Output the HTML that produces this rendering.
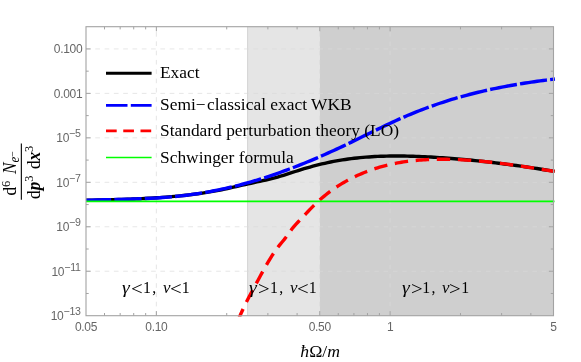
<!DOCTYPE html><html><head><meta charset="utf-8"><title>plot</title><style>
html,body{margin:0;padding:0;background:#fff;}
body{width:581px;height:362px;position:relative;overflow:hidden;font-family:"Liberation Sans",sans-serif;}
.t{position:absolute;white-space:nowrap;line-height:1;}
.tk{font-family:"Liberation Sans",sans-serif;font-size:12px;letter-spacing:-0.3px;color:#666;}
.yt{text-align:right;width:80px;left:2.3px;}
.sup{font-size:10.6px;position:relative;top:-4.8px;letter-spacing:-0.2px;margin-right:1.5px;}
.lg{font-family:"Liberation Serif",serif;font-size:17.4px;color:#000;left:160px;}
.rg{font-family:"Liberation Serif",serif;font-size:15.8px;color:#000;}
.ax{font-family:"Liberation Serif",serif;font-size:16.4px;color:#000;}
i{font-style:italic;}
</style></head><body>
<svg width="581" height="362" viewBox="0 0 581 362" style="position:absolute;left:0;top:0">
<rect x="0" y="0" width="581" height="362" fill="#fff"/>
<rect x="247.6" y="26.7" width="72.1" height="289.0" fill="#e5e5e5"/>
<rect x="319.7" y="26.7" width="233.8" height="289.0" fill="#cfcfcf"/>
<line x1="247.6" y1="26.7" x2="247.6" y2="315.7" stroke="#d4d4d4" stroke-width="1"/>
<line x1="86.0" y1="48.93" x2="553.5" y2="48.93" stroke="rgba(216,216,216,0.65)" stroke-width="1" stroke-dasharray="4.65 4.65"/>
<line x1="86.0" y1="93.39" x2="553.5" y2="93.39" stroke="rgba(216,216,216,0.65)" stroke-width="1" stroke-dasharray="4.65 4.65"/>
<line x1="86.0" y1="137.85" x2="553.5" y2="137.85" stroke="rgba(216,216,216,0.65)" stroke-width="1" stroke-dasharray="4.65 4.65"/>
<line x1="86.0" y1="182.32" x2="553.5" y2="182.32" stroke="rgba(216,216,216,0.65)" stroke-width="1" stroke-dasharray="4.65 4.65"/>
<line x1="86.0" y1="226.78" x2="553.5" y2="226.78" stroke="rgba(216,216,216,0.65)" stroke-width="1" stroke-dasharray="4.65 4.65"/>
<line x1="86.0" y1="271.24" x2="553.5" y2="271.24" stroke="rgba(216,216,216,0.65)" stroke-width="1" stroke-dasharray="4.65 4.65"/>
<line x1="156.37" y1="315.7" x2="156.37" y2="26.7" stroke="rgba(216,216,216,0.65)" stroke-width="1" stroke-dasharray="4.65 4.65"/>
<line x1="319.75" y1="315.7" x2="319.75" y2="26.7" stroke="rgba(216,216,216,0.65)" stroke-width="1" stroke-dasharray="4.65 4.65"/>
<line x1="390.12" y1="315.7" x2="390.12" y2="26.7" stroke="rgba(216,216,216,0.65)" stroke-width="1" stroke-dasharray="4.65 4.65"/>
<path d="M86.0,293.47h2.7 M553.5,293.47h-2.7" stroke="#a3a3a3" stroke-width="1" fill="none"/>
<path d="M86.0,271.24h4.6 M553.5,271.24h-4.6" stroke="#a3a3a3" stroke-width="1" fill="none"/>
<path d="M86.0,249.01h2.7 M553.5,249.01h-2.7" stroke="#a3a3a3" stroke-width="1" fill="none"/>
<path d="M86.0,226.78h4.6 M553.5,226.78h-4.6" stroke="#a3a3a3" stroke-width="1" fill="none"/>
<path d="M86.0,204.55h2.7 M553.5,204.55h-2.7" stroke="#a3a3a3" stroke-width="1" fill="none"/>
<path d="M86.0,182.32h4.6 M553.5,182.32h-4.6" stroke="#a3a3a3" stroke-width="1" fill="none"/>
<path d="M86.0,160.08h2.7 M553.5,160.08h-2.7" stroke="#a3a3a3" stroke-width="1" fill="none"/>
<path d="M86.0,137.85h4.6 M553.5,137.85h-4.6" stroke="#a3a3a3" stroke-width="1" fill="none"/>
<path d="M86.0,115.62h2.7 M553.5,115.62h-2.7" stroke="#a3a3a3" stroke-width="1" fill="none"/>
<path d="M86.0,93.39h4.6 M553.5,93.39h-4.6" stroke="#a3a3a3" stroke-width="1" fill="none"/>
<path d="M86.0,71.16h2.7 M553.5,71.16h-2.7" stroke="#a3a3a3" stroke-width="1" fill="none"/>
<path d="M86.0,48.93h4.6 M553.5,48.93h-4.6" stroke="#a3a3a3" stroke-width="1" fill="none"/>
<path d="M104.51,315.7v-2.7 M104.51,26.7v2.7" stroke="#a3a3a3" stroke-width="1" fill="none"/>
<path d="M120.16,315.7v-2.7 M120.16,26.7v2.7" stroke="#a3a3a3" stroke-width="1" fill="none"/>
<path d="M133.71,315.7v-2.7 M133.71,26.7v2.7" stroke="#a3a3a3" stroke-width="1" fill="none"/>
<path d="M145.67,315.7v-2.7 M145.67,26.7v2.7" stroke="#a3a3a3" stroke-width="1" fill="none"/>
<path d="M156.37,315.7v-4.6 M156.37,26.7v4.6" stroke="#a3a3a3" stroke-width="1" fill="none"/>
<path d="M226.73,315.7v-2.7 M226.73,26.7v2.7" stroke="#a3a3a3" stroke-width="1" fill="none"/>
<path d="M267.89,315.7v-2.7 M267.89,26.7v2.7" stroke="#a3a3a3" stroke-width="1" fill="none"/>
<path d="M297.10,315.7v-2.7 M297.10,26.7v2.7" stroke="#a3a3a3" stroke-width="1" fill="none"/>
<path d="M319.75,315.7v-4.6 M319.75,26.7v4.6" stroke="#a3a3a3" stroke-width="1" fill="none"/>
<path d="M338.26,315.7v-2.7 M338.26,26.7v2.7" stroke="#a3a3a3" stroke-width="1" fill="none"/>
<path d="M353.91,315.7v-2.7 M353.91,26.7v2.7" stroke="#a3a3a3" stroke-width="1" fill="none"/>
<path d="M367.46,315.7v-2.7 M367.46,26.7v2.7" stroke="#a3a3a3" stroke-width="1" fill="none"/>
<path d="M379.42,315.7v-2.7 M379.42,26.7v2.7" stroke="#a3a3a3" stroke-width="1" fill="none"/>
<path d="M390.12,315.7v-4.6 M390.12,26.7v4.6" stroke="#a3a3a3" stroke-width="1" fill="none"/>
<path d="M460.48,315.7v-2.7 M460.48,26.7v2.7" stroke="#a3a3a3" stroke-width="1" fill="none"/>
<path d="M501.64,315.7v-2.7 M501.64,26.7v2.7" stroke="#a3a3a3" stroke-width="1" fill="none"/>
<path d="M530.85,315.7v-2.7 M530.85,26.7v2.7" stroke="#a3a3a3" stroke-width="1" fill="none"/>
<clipPath id="cp"><rect x="84.0" y="24.7" width="471.5" height="291.8"/></clipPath>
<g id="curves" fill="none" stroke-linecap="butt" stroke-linejoin="round" clip-path="url(#cp)">
<path d="M86.00,200.30 L88.95,200.25 L91.89,200.19 L94.84,200.13 L97.79,200.07 L100.74,200.00 L103.68,199.93 L106.63,199.86 L109.58,199.79 L112.52,199.71 L115.47,199.63 L118.42,199.54 L121.37,199.45 L124.31,199.35 L127.26,199.25 L130.21,199.14 L133.15,199.02 L136.10,198.90 L139.05,198.76 L142.00,198.62 L144.94,198.47 L147.89,198.31 L150.84,198.15 L153.78,197.97 L156.73,197.78 L159.68,197.58 L162.63,197.37 L165.57,197.14 L168.52,196.91 L171.47,196.66 L174.42,196.40 L177.36,196.12 L180.31,195.83 L183.26,195.53 L186.20,195.21 L189.15,194.87 L192.10,194.51 L195.05,194.14 L197.99,193.74 L200.94,193.33 L203.89,192.89 L206.83,192.43 L209.78,191.94 L212.73,191.43 L215.68,190.90 L218.62,190.34 L221.57,189.75 L224.52,189.14 L227.46,188.51 L230.41,187.86 L233.36,187.20 L236.31,186.53 L239.25,185.85 L242.20,185.18 L245.15,184.52 L248.09,183.86 L251.04,183.22 L253.99,182.58 L256.94,181.94 L259.88,181.30 L262.83,180.65 L265.78,179.98 L268.72,179.29 L271.67,178.57 L274.62,177.81 L277.57,177.02 L280.51,176.18 L283.46,175.30 L286.41,174.37 L289.35,173.42 L292.30,172.46 L295.25,171.50 L298.20,170.55 L301.14,169.62 L304.09,168.72 L307.04,167.85 L309.98,167.01 L312.93,166.20 L315.88,165.42 L318.83,164.68 L321.77,163.97 L324.72,163.29 L327.67,162.64 L330.62,162.03 L333.56,161.45 L336.51,160.90 L339.46,160.39 L342.40,159.91 L345.35,159.46 L348.30,159.05 L351.25,158.66 L354.19,158.30 L357.14,157.97 L360.09,157.67 L363.03,157.40 L365.98,157.15 L368.93,156.93 L371.88,156.74 L374.82,156.57 L377.77,156.42 L380.72,156.30 L383.66,156.19 L386.61,156.11 L389.56,156.06 L392.51,156.02 L395.45,156.00 L398.40,156.00 L401.35,156.02 L404.29,156.06 L407.24,156.11 L410.19,156.18 L413.14,156.27 L416.08,156.37 L419.03,156.48 L421.98,156.61 L424.92,156.75 L427.87,156.90 L430.82,157.06 L433.77,157.24 L436.71,157.42 L439.66,157.62 L442.61,157.82 L445.55,158.03 L448.50,158.25 L451.45,158.48 L454.40,158.71 L457.34,158.95 L460.29,159.21 L463.24,159.47 L466.18,159.74 L469.13,160.01 L472.08,160.30 L475.03,160.59 L477.97,160.89 L480.92,161.20 L483.87,161.52 L486.82,161.84 L489.76,162.17 L492.71,162.51 L495.66,162.86 L498.60,163.22 L501.55,163.58 L504.50,163.95 L507.45,164.33 L510.39,164.72 L513.34,165.12 L516.29,165.52 L519.23,165.93 L522.18,166.35 L525.13,166.77 L528.08,167.20 L531.02,167.65 L533.97,168.09 L536.92,168.55 L539.86,169.01 L542.81,169.48 L545.76,169.96 L548.71,170.44 L551.65,170.93 L554.60,171.43" stroke="#000" stroke-width="3.4"/>
<path d="M86.00,200.34 L88.95,200.22 L91.90,200.12 L94.85,200.02 L97.80,199.94 L100.75,199.85 L103.69,199.77 L106.64,199.70 L109.59,199.62 L112.54,199.55 L115.49,199.48 L118.44,199.41 L121.39,199.34 L124.34,199.26 L127.29,199.18 L130.24,199.09 L133.18,199.00 L136.13,198.91 L139.08,198.80 L142.03,198.69 L144.98,198.56 L147.93,198.43 L150.88,198.28 L153.83,198.12 L156.78,197.95 L159.73,197.76 L162.68,197.55 L165.62,197.33 L168.57,197.09 L171.52,196.83 L174.47,196.55 L177.42,196.25 L180.37,195.93 L183.32,195.59 L186.27,195.22 L189.22,194.84 L192.17,194.44 L195.12,194.01 L198.06,193.56 L201.01,193.09 L203.96,192.60 L206.91,192.09 L209.86,191.56 L212.81,191.00 L215.76,190.43 L218.71,189.83 L221.66,189.21 L224.61,188.57 L227.55,187.91 L230.50,187.22 L233.45,186.52 L236.40,185.79 L239.35,185.04 L242.30,184.26 L245.25,183.47 L248.20,182.65 L251.15,181.82 L254.10,180.96 L257.05,180.07 L259.99,179.17 L262.94,178.25 L265.89,177.30 L268.84,176.34 L271.79,175.35 L274.74,174.34 L277.69,173.32 L280.64,172.27 L283.59,171.21 L286.54,170.13 L289.48,169.03 L292.43,167.91 L295.38,166.77 L298.33,165.61 L301.28,164.44 L304.23,163.25 L307.18,162.05 L310.13,160.82 L313.08,159.58 L316.03,158.33 L318.98,157.05 L321.92,155.77 L324.87,154.47 L327.82,153.15 L330.77,151.82 L333.72,150.47 L336.67,149.11 L339.62,147.73 L342.57,146.35 L345.52,144.94 L348.47,143.53 L351.42,142.10 L354.36,140.67 L357.31,139.23 L360.26,137.78 L363.21,136.33 L366.16,134.88 L369.11,133.43 L372.06,131.99 L375.01,130.54 L377.96,129.11 L380.91,127.68 L383.85,126.27 L386.80,124.86 L389.75,123.48 L392.70,122.10 L395.65,120.75 L398.60,119.42 L401.55,118.11 L404.50,116.82 L407.45,115.56 L410.40,114.32 L413.35,113.11 L416.29,111.92 L419.24,110.75 L422.19,109.61 L425.14,108.49 L428.09,107.40 L431.04,106.33 L433.99,105.28 L436.94,104.26 L439.89,103.26 L442.84,102.28 L445.78,101.33 L448.73,100.40 L451.68,99.49 L454.63,98.60 L457.58,97.74 L460.53,96.90 L463.48,96.08 L466.43,95.27 L469.38,94.49 L472.33,93.73 L475.28,92.99 L478.22,92.27 L481.17,91.57 L484.12,90.88 L487.07,90.22 L490.02,89.57 L492.97,88.94 L495.92,88.32 L498.87,87.72 L501.82,87.14 L504.77,86.58 L507.72,86.03 L510.66,85.49 L513.61,84.97 L516.56,84.46 L519.51,83.97 L522.46,83.49 L525.41,83.03 L528.36,82.58 L531.31,82.14 L534.26,81.71 L537.21,81.29 L540.15,80.89 L543.10,80.50 L546.05,80.11 L549.00,79.74 L551.95,79.38 L554.90,79.02" stroke="#0000ff" stroke-width="3.4" stroke-dasharray="27.2 3.2" stroke-dashoffset="2.0"/>
<path d="M238.40,319.57 L240.39,314.89 L242.38,310.45 L244.37,306.22 L246.35,302.16 L248.34,298.25 L250.33,294.45 L252.32,290.73 L254.31,287.05 L256.30,283.39 L258.29,279.72 L260.28,276.05 L262.26,272.42 L264.25,268.83 L266.24,265.31 L268.23,261.88 L270.22,258.57 L272.21,255.38 L274.20,252.35 L276.18,249.50 L278.17,246.85 L280.16,244.37 L282.15,241.99 L284.14,239.60 L286.13,237.07 L288.12,234.33 L290.11,231.48 L292.09,228.79 L294.08,226.36 L296.07,224.11 L298.06,221.98 L300.05,219.89 L302.04,217.79 L304.03,215.68 L306.02,213.57 L308.00,211.47 L309.99,209.39 L311.98,207.36 L313.97,205.37 L315.96,203.45 L317.95,201.59 L319.94,199.79 L321.92,198.06 L323.91,196.38 L325.90,194.76 L327.89,193.19 L329.88,191.68 L331.87,190.22 L333.86,188.82 L335.85,187.46 L337.83,186.15 L339.82,184.89 L341.81,183.67 L343.80,182.49 L345.79,181.36 L347.78,180.26 L349.77,179.20 L351.75,178.18 L353.74,177.20 L355.73,176.25 L357.72,175.33 L359.71,174.44 L361.70,173.58 L363.69,172.76 L365.68,171.96 L367.66,171.20 L369.65,170.46 L371.64,169.75 L373.63,169.07 L375.62,168.42 L377.61,167.80 L379.60,167.20 L381.58,166.63 L383.57,166.08 L385.56,165.56 L387.55,165.07 L389.54,164.60 L391.53,164.15 L393.52,163.73 L395.51,163.33 L397.49,162.95 L399.48,162.59 L401.47,162.26 L403.46,161.94 L405.45,161.65 L407.44,161.37 L409.43,161.12 L411.42,160.88 L413.40,160.67 L415.39,160.47 L417.38,160.28 L419.37,160.12 L421.36,159.97 L423.35,159.84 L425.34,159.72 L427.32,159.62 L429.31,159.53 L431.30,159.45 L433.29,159.39 L435.28,159.34 L437.27,159.31 L439.26,159.28 L441.25,159.27 L443.23,159.27 L445.22,159.28 L447.21,159.31 L449.20,159.34 L451.19,159.38 L453.18,159.44 L455.17,159.50 L457.15,159.58 L459.14,159.66 L461.13,159.76 L463.12,159.86 L465.11,159.98 L467.10,160.10 L469.09,160.23 L471.08,160.37 L473.06,160.52 L475.05,160.68 L477.04,160.84 L479.03,161.02 L481.02,161.20 L483.01,161.39 L485.00,161.58 L486.98,161.78 L488.97,161.99 L490.96,162.21 L492.95,162.43 L494.94,162.66 L496.93,162.90 L498.92,163.14 L500.91,163.39 L502.89,163.64 L504.88,163.90 L506.87,164.16 L508.86,164.43 L510.85,164.70 L512.84,164.97 L514.83,165.25 L516.82,165.54 L518.80,165.83 L520.79,166.12 L522.78,166.42 L524.77,166.71 L526.76,167.02 L528.75,167.32 L530.74,167.63 L532.72,167.94 L534.71,168.25 L536.70,168.56 L538.69,168.88 L540.68,169.19 L542.67,169.51 L544.66,169.83 L546.65,170.15 L548.63,170.47 L550.62,170.79 L552.61,171.12 L554.60,171.44" stroke="#ff0000" stroke-width="3.4" stroke-dasharray="13.4 7.7" stroke-dashoffset="1.8"/>
<line x1="86.0" y1="201.4" x2="554.5" y2="201.4" stroke="#00ff00" stroke-width="1.9"/>
</g>
<rect x="86.0" y="26.7" width="467.5" height="289.0" fill="none" stroke="#a3a3a3" stroke-width="1.1"/>
<line x1="106" y1="73.2" x2="151.6" y2="73.2" stroke="#000" stroke-width="2.9"/>
<line x1="106" y1="105.4" x2="151.6" y2="105.4" stroke="#0000ff" stroke-width="2.9" stroke-dasharray="21.5 3.3"/>
<line x1="106" y1="130.9" x2="151.6" y2="130.9" stroke="#ff0000" stroke-width="2.9" stroke-dasharray="10.7 6.55"/>
<line x1="106" y1="157.5" x2="151.6" y2="157.5" stroke="#00ff00" stroke-width="1.7"/>
<line x1="21.35" y1="143.6" x2="21.35" y2="199.7" stroke="#000" stroke-width="1.1"/>
</svg>
<div id="txt" style="position:absolute;left:0;top:0;width:581px;height:362px;will-change:transform;opacity:0.999">
<div class="t tk yt" style="top:43.27px">0.100</div>
<div class="t tk yt" style="top:87.73px">0.001</div>
<div class="t tk yt" style="top:132.20px">10<span class="sup">−5</span></div>
<div class="t tk yt" style="top:176.66px">10<span class="sup">−7</span></div>
<div class="t tk yt" style="top:221.12px">10<span class="sup">−9</span></div>
<div class="t tk yt" style="top:265.58px">10<span class="sup">−11</span></div>
<div class="t tk yt" style="top:310.04px">10<span class="sup">−13</span></div>
<div class="t tk" style="left:46.00px;width:80px;text-align:center;top:321.24px">0.05</div>
<div class="t tk" style="left:116.37px;width:80px;text-align:center;top:321.24px">0.10</div>
<div class="t tk" style="left:279.75px;width:80px;text-align:center;top:321.24px">0.50</div>
<div class="t tk" style="left:350.12px;width:80px;text-align:center;top:321.24px">1</div>
<div class="t tk" style="left:513.50px;width:80px;text-align:center;top:321.24px">5</div>
<div class="t lg" style="top:64.23px">Exact</div>
<div class="t lg" style="top:96.43px">Semi<span style="letter-spacing:1.5px">−</span>classical exact WKB</div>
<div class="t lg" style="top:122.03px">Standard perturbation theory (LO)</div>
<div class="t lg" style="top:148.83px">Schwinger formula</div>
<div class="t" style="font-family:'Liberation Serif',serif;color:#000;font-size:15.8px;left:122.30px;top:279.97px;font-style:italic;transform-origin:0 50%;transform:scaleX(1.25);">γ</div>
<div class="t" style="font-family:'Liberation Serif',serif;color:#000;font-size:18.0px;left:131.46px;top:280.32px;transform-origin:0 50%;transform:scaleX(1.15);">&lt;</div>
<div class="t" style="font-family:'Liberation Serif',serif;color:#000;font-size:15.8px;left:142.96px;top:279.97px;">1</div>
<div class="t" style="font-family:'Liberation Serif',serif;color:#000;font-size:15.8px;left:152.25px;top:279.97px;">,</div>
<div class="t" style="font-family:'Liberation Serif',serif;color:#000;font-size:15.8px;left:162.60px;top:279.97px;font-style:italic;transform-origin:0 50%;transform:scaleX(1.07);">ν</div>
<div class="t" style="font-family:'Liberation Serif',serif;color:#000;font-size:18.0px;left:169.96px;top:280.32px;transform-origin:0 50%;transform:scaleX(1.15);">&lt;</div>
<div class="t" style="font-family:'Liberation Serif',serif;color:#000;font-size:15.8px;left:181.86px;top:279.97px;">1</div>
<div class="t" style="font-family:'Liberation Serif',serif;color:#000;font-size:15.8px;left:249.30px;top:279.97px;font-style:italic;transform-origin:0 50%;transform:scaleX(1.25);">γ</div>
<div class="t" style="font-family:'Liberation Serif',serif;color:#000;font-size:18.0px;left:258.46px;top:280.32px;transform-origin:0 50%;transform:scaleX(1.15);">&gt;</div>
<div class="t" style="font-family:'Liberation Serif',serif;color:#000;font-size:15.8px;left:269.96px;top:279.97px;">1</div>
<div class="t" style="font-family:'Liberation Serif',serif;color:#000;font-size:15.8px;left:279.25px;top:279.97px;">,</div>
<div class="t" style="font-family:'Liberation Serif',serif;color:#000;font-size:15.8px;left:289.60px;top:279.97px;font-style:italic;transform-origin:0 50%;transform:scaleX(1.07);">ν</div>
<div class="t" style="font-family:'Liberation Serif',serif;color:#000;font-size:18.0px;left:296.96px;top:280.32px;transform-origin:0 50%;transform:scaleX(1.15);">&lt;</div>
<div class="t" style="font-family:'Liberation Serif',serif;color:#000;font-size:15.8px;left:308.86px;top:279.97px;">1</div>
<div class="t" style="font-family:'Liberation Serif',serif;color:#000;font-size:15.8px;left:401.60px;top:279.97px;font-style:italic;transform-origin:0 50%;transform:scaleX(1.25);">γ</div>
<div class="t" style="font-family:'Liberation Serif',serif;color:#000;font-size:18.0px;left:410.76px;top:280.32px;transform-origin:0 50%;transform:scaleX(1.15);">&gt;</div>
<div class="t" style="font-family:'Liberation Serif',serif;color:#000;font-size:15.8px;left:422.26px;top:279.97px;">1</div>
<div class="t" style="font-family:'Liberation Serif',serif;color:#000;font-size:15.8px;left:431.55px;top:279.97px;">,</div>
<div class="t" style="font-family:'Liberation Serif',serif;color:#000;font-size:15.8px;left:441.90px;top:279.97px;font-style:italic;transform-origin:0 50%;transform:scaleX(1.07);">ν</div>
<div class="t" style="font-family:'Liberation Serif',serif;color:#000;font-size:18.0px;left:449.26px;top:280.32px;transform-origin:0 50%;transform:scaleX(1.15);">&gt;</div>
<div class="t" style="font-family:'Liberation Serif',serif;color:#000;font-size:15.8px;left:461.16px;top:279.97px;">1</div>
<div class="t ax" style="left:300.3px;top:343.38px;font-size:17.7px"><i>ħ</i>Ω/<i>m</i></div>
<div class="t ax" id="num" style="font-size:17.2px;left:0;top:0;transform-origin:0 0;transform:translate(1.23px,195.6px) rotate(-90deg) scale(1,1.06)">d<span style="font-size:12.4px;position:relative;top:-6.4px">6</span><span style="letter-spacing:2.6px"> </span><i>N</i><span style="font-size:13px;position:relative;top:2.5px"><i>e</i><span style="font-size:10.6px;position:relative;top:-2.2px;margin-left:-0.6px">−</span></span></div>
<div class="t ax" id="den" style="font-size:17.2px;left:0;top:0;transform-origin:0 0;transform:translate(24.93px,198.9px) rotate(-90deg) scale(1,1.06)">d<b><i>p</i></b><span style="font-size:12.4px;position:relative;top:-6.4px">3</span><span style="letter-spacing:2.1px"> </span>d<b><i>x</i></b><span style="font-size:12.4px;position:relative;top:-6.4px">3</span></div>
</div></body></html>
